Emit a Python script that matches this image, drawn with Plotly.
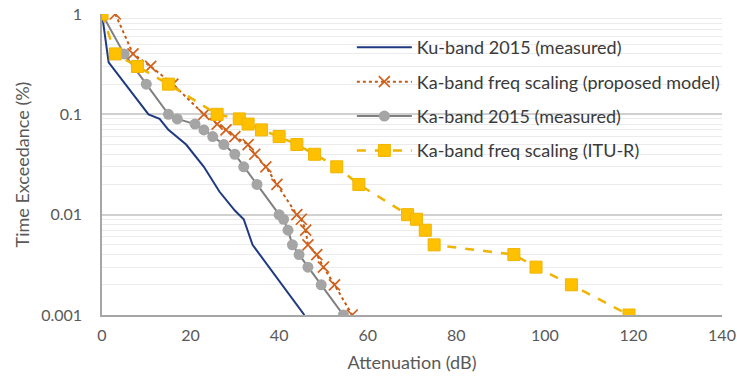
import plotly.graph_objects as go

# Ku-band 2015 (measured)
ku_x = [0, 1.5, 10.5, 13, 15, 19, 23, 26.5, 30, 32, 34, 45.7]
ku_y = [1, 0.33, 0.1, 0.09, 0.07, 0.05, 0.03, 0.017, 0.011, 0.009, 0.005, 0.001]

# Ka-band freq scaling (proposed model)
prop_x = [3, 7, 11, 16, 23, 26, 28, 30, 33, 34.5, 37, 39.5, 44, 45, 46, 46.5, 48.5, 50, 52.5, 56.5]
prop_y = [1, 0.4, 0.3, 0.2, 0.1, 0.08, 0.07, 0.06, 0.05, 0.04, 0.03, 0.02, 0.01, 0.009, 0.007,
          0.005, 0.004, 0.003, 0.002, 0.001]

# Ka-band 2015 (measured)
ka_x = [0, 5, 10, 15, 17, 21, 23, 25, 27.5, 30, 32, 35, 40, 41, 42, 43, 44.5, 46.5, 49.5, 54.5]
ka_y = [1, 0.4, 0.2, 0.1, 0.09, 0.08, 0.07, 0.06, 0.05, 0.04, 0.03, 0.02, 0.01, 0.009, 0.007,
        0.005, 0.004, 0.003, 0.002, 0.001]

# Ka-band freq scaling (ITU-R)
itu_x = [0, 3, 8, 15, 26, 31, 33, 36, 40, 44, 48, 53, 58, 69, 71, 73, 75, 93, 98, 106, 119]
itu_y = [1, 0.4, 0.3, 0.2, 0.1, 0.09, 0.08, 0.07, 0.06, 0.05, 0.04, 0.03, 0.02, 0.01, 0.009,
         0.007, 0.005, 0.004, 0.003, 0.002, 0.001]

x_ticks = [0, 20, 40, 60, 80, 100, 120, 140]
y_ticks = [0.001, 0.01, 0.1, 1]
y_tick_text = ["0.001", "0.01", "0.1", "1"]
y_minor = [m * d for d in [0.001, 0.01, 0.1] for m in range(2, 10)]

FONT = "Lato, 'Open Sans', sans-serif"
TXT = "#595959"

fig = go.Figure()
fig.add_trace(go.Scatter(x=ku_x, y=ku_y, mode="lines", name="Ku-band 2015 (measured)",
                         line=dict(color="#1f3a80", width=2), legendgroup="a"))
fig.add_trace(go.Scatter(x=prop_x, y=prop_y, mode="lines+markers",
                         name="Ka-band freq scaling (proposed model)",
                         line=dict(color="#c55a11", width=2, dash="dot"),
                         marker=dict(symbol="x-thin", size=11,
                                     line=dict(color="#d2601a", width=1.7)),
                         legendgroup="b"))
fig.add_trace(go.Scatter(x=ka_x, y=ka_y, mode="lines+markers", name="Ka-band 2015 (measured)",
                         line=dict(color="#7f7f7f", width=2),
                         marker=dict(symbol="circle", size=11, color="#a5a5a5"),
                         legendgroup="c"))
fig.add_trace(go.Scatter(x=itu_x, y=itu_y, mode="lines+markers",
                         name="Ka-band freq scaling (ITU-R)",
                         line=dict(color="#f0b400", width=2.5, dash="dash"),
                         marker=dict(symbol="square", size=12, color="#ffc000",
                                     line=dict(color="#f0b400", width=1)),
                         legendgroup="d"))

fig.update_layout(
    width=737, height=385,
    margin=dict(l=102, r=15, t=14, b=70, autoexpand=False),
    paper_bgcolor="white", plot_bgcolor="white",
    font=dict(family=FONT, size=16, color=TXT),
    showlegend=True,
    legend=dict(x=0.403, y=0.95, xanchor="left", yanchor="top",
                bgcolor="rgba(0,0,0,0)", font=dict(size=18, color="#3a3a3a"),
                traceorder="grouped", tracegroupgap=8, itemwidth=55),
    xaxis=dict(range=[0, 140], tickvals=x_ticks, showgrid=False, zeroline=False,
               automargin=False, showline=True, linecolor="#a6a6a6", linewidth=1.5,
               ticks="", ticklabelstandoff=5, ticklabeloverflow="allow",
               tickfont=dict(size=16, color=TXT),
               title=dict(text="Attenuation (dB)", font=dict(size=18, color=TXT), standoff=13)),
    yaxis=dict(type="log", range=[-3, 0], tickvals=y_ticks, ticktext=y_tick_text,
               automargin=False,
               showgrid=True, gridcolor="#d0d0d0", gridwidth=1.5,
               showline=True, linecolor="#a6a6a6", linewidth=1.5,
               zeroline=False, ticks="", ticklabelstandoff=15, ticklabeloverflow="allow",
               tickfont=dict(size=16, color=TXT),
               minor=dict(tickvals=y_minor, showgrid=True, gridcolor="#ebebeb", gridwidth=1),
               title=dict(text="Time Exceedance (%)", font=dict(size=18, color=TXT), standoff=7)),
)

fig.write_html("out.html", config={"displayModeBar": False},
               post_script="document.body.style.margin='0';document.body.style.overflow='hidden';")
